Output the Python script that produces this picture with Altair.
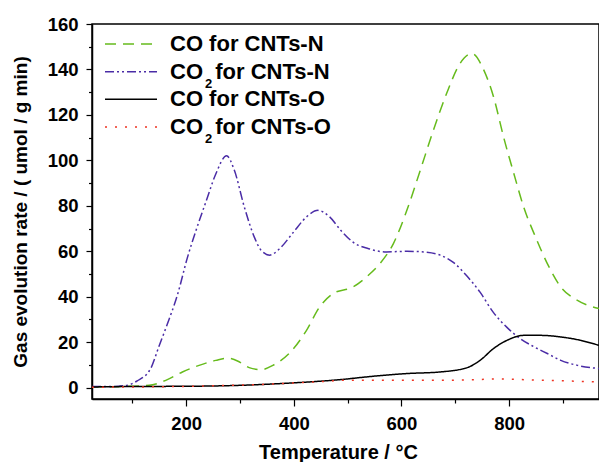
import altair as alt
import pandas as pd

# ---- data ----
temp_co_n = [25, 80, 131, 162, 193, 224, 255, 277, 299, 317, 339, 361, 392, 423, 448, 473,
             510, 535, 560, 585, 610, 635, 659, 684, 709, 731, 753, 771, 790, 809, 827,
             849, 871, 896, 927, 967]
rate_co_n = [0.3, 0.5, 1.0, 3.2, 6.9, 9.8, 12.0, 13.0, 11.3, 8.8, 7.9, 9.8, 15.2, 25.0, 35.5, 41.4,
             44.3, 48.7, 54.6, 63.4, 78.0, 95.7, 113.0, 129.5, 142.7, 147.0, 139.7, 128.0, 110.0, 94.0, 79.5,
             66.3, 54.6, 44.3, 38.4, 34.8]

temp_co2_n = [25, 60, 87, 109, 134, 149, 165, 184, 202, 218, 237, 255, 275, 289, 308, 327, 339,
              355, 373, 398, 423, 445, 467, 488, 510, 541, 572, 610, 641, 672, 697, 722,
              746, 771, 796, 821, 846, 871, 896, 927, 967]
rate_co2_n = [0.5, 0.5, 0.9, 3.0, 8.4, 17.9, 28.0, 41.0, 57.0, 69.0, 82.0, 94.0, 102.0, 96.0, 79.5, 66.0, 60.5,
              58.3, 61.0, 68.0, 75.0, 78.0, 75.0, 69.0, 64.0, 61.0, 59.7, 60.0, 59.7, 58.3, 55.0, 49.0,
              42.0, 33.0, 26.5, 21.5, 18.0, 15.0, 12.0, 9.8, 8.4]

temp_co_o = [25, 100, 205, 298, 392, 485, 547, 610, 672, 722, 746, 771, 796, 827, 858, 896, 933, 967]
rate_co_o = [0.3, 0.5, 0.6, 1.0, 2.0, 3.5, 5.0, 6.2, 6.9, 8.8, 12.0, 17.2, 20.8, 23.0, 23.0, 22.3, 20.8, 18.6]

temp_co2_o = [25, 150, 250, 350, 420, 467, 485, 550, 610, 700, 784, 850, 900, 967]
rate_co2_o = [0.2, 0.4, 0.8, 1.5, 2.3, 2.9, 3.2, 3.3, 3.2, 3.3, 3.8, 3.3, 3.0, 2.5]

series_names = ["CO for CNTs-N", "CO2 for CNTs-N", "CO for CNTs-O", "CO2 for CNTs-O"]
legend_main = ["CO for CNTs-N", "CO\u00a0 for CNTs-N", "CO for CNTs-O", "CO\u00a0 for CNTs-O"]
legend_sub = ["", "2", "", "2"]
series_colors = ["#66bb1c", "#4a2ca6", "#000000", "#ee3322"]
series_dashes = [[11, 7], [9, 3, 2, 3, 2, 3], [1, 0], [2, 8]]

x_ticks = list(range(100, 1000, 100))
y_ticks = list(range(0, 170, 10))

FONT = "Liberation Sans"

rows = []
for name, ts, vs in zip(series_names,
                        [temp_co_n, temp_co2_n, temp_co_o, temp_co2_o],
                        [rate_co_n, rate_co2_n, rate_co_o, rate_co2_o]):
    for t, v in zip(ts, vs):
        rows.append({"series": name, "T": t, "rate": v})
df = pd.DataFrame(rows)

color_scale = alt.Scale(domain=series_names, range=series_colors)
dash_scale = alt.Scale(domain=series_names, range=series_dashes)

lines = alt.Chart(df).mark_line(strokeWidth=1.5, interpolate="monotone", clip=True).encode(
    x=alt.X("T:Q",
            scale=alt.Scale(domain=[25, 967], nice=False, zero=False),
            axis=alt.Axis(values=x_ticks,
                          labelExpr="datum.value % 200 == 0 ? datum.label : ''",
                          tickSize={"condition": {"test": "datum.value % 200 == 0", "value": 7}, "value": 4},
                          labelPadding=8,
                          title="Temperature / \u00b0C",
                          titleFontSize=20,
                          titleX=246,
                          titlePadding=10)),
    y=alt.Y("rate:Q",
            scale=alt.Scale(domain=[-5, 160], nice=False, zero=False),
            axis=alt.Axis(values=y_ticks,
                          labelExpr="datum.value % 20 == 0 ? datum.label : ''",
                          tickSize={"condition": {"test": "datum.value % 20 == 0", "value": 6}, "value": 3.5},
                          labelPadding=8,
                          title="Gas evolution rate / ( umol / g min)",
                          titlePadding=17)),
    color=alt.Color("series:N", scale=color_scale, legend=None),
    strokeDash=alt.StrokeDash("series:N", scale=dash_scale, legend=None),
    detail="series:N",
)

legend_df = pd.DataFrame({"series": series_names, "main": legend_main, "sub": legend_sub})
row_y = alt.Y("series:N",
              scale=alt.Scale(type="point", domain=series_names, range=[20, 103], padding=0),
              axis=None)

leg_rules = alt.Chart(legend_df).mark_rule(strokeWidth=1.5).encode(
    x=alt.value(13), x2=alt.value(65), y=row_y,
    color=alt.Color("series:N", scale=color_scale, legend=None),
    strokeDash=alt.StrokeDash("series:N", scale=dash_scale, legend=None),
)
leg_text = alt.Chart(legend_df).mark_text(
    align="left", baseline="middle", font=FONT, fontSize=22, fontWeight="bold", color="black"
).encode(x=alt.value(78), y=row_y, text="main:N")
leg_sub = alt.Chart(legend_df).mark_text(
    align="left", baseline="middle", font=FONT, fontSize=13, fontWeight="bold", color="black", dy=12
).encode(x=alt.value(113), y=row_y, text="sub:N")

chart = alt.layer(lines, leg_rules, leg_text, leg_sub).resolve_scale(
    y="independent"
).properties(
    width=507, height=375,
    autosize=alt.AutoSizeParams(type="none"),
    padding={"left": 92, "top": 24, "right": 0, "bottom": 63},
    background="white",
).configure_view(
    stroke="black", strokeWidth=1.5
).configure_axis(
    grid=False,
    domainColor="black", domainWidth=1.5,
    tickColor="black", tickWidth=1.2,
    labelFont=FONT, labelFontSize=18.5, labelFontWeight="bold", labelColor="black",
    titleFont=FONT, titleFontSize=19, titleFontWeight="bold", titleColor="black",
)

chart.save("out.html", embed_options={"renderer": "svg", "actions": False})
